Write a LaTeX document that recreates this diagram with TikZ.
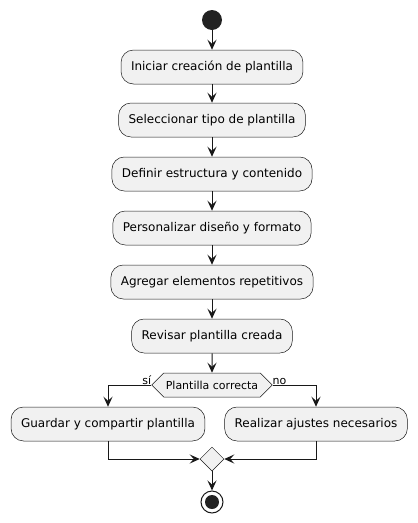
\documentclass[tikz,border=0pt]{standalone}
\usepackage{fontspec}
\setmainfont{DejaVu Sans}
\usetikzlibrary{arrows.meta,shapes.geometric,shapes.symbols}
\definecolor{lc}{HTML}{181818}
\definecolor{bf}{HTML}{F1F1F1}
\definecolor{sc}{HTML}{222222}
\begin{document}
\begin{tikzpicture}[x=1pt,y=-1pt,
  act/.style={draw=lc,fill=bf,line width=0.5pt,rounded corners=12.5pt,minimum height=34pt,inner xsep=10pt,font=\fontsize{12pt}{14pt}\selectfont,text=black},
  dec/.style={draw=lc,fill=bf,line width=0.5pt,signal,signal to=west and east,signal pointer angle=90,minimum height=24pt,inner xsep=2pt,font=\fontsize{11pt}{13pt}\selectfont},
  mrg/.style={draw=lc,fill=bf,line width=0.5pt,diamond,minimum width=24pt,minimum height=24pt,inner sep=0pt},
  lbl/.style={font=\fontsize{11pt}{13pt}\selectfont,inner sep=0pt},
  flow/.style={draw=lc,line width=1pt,-{Stealth[length=10pt,width=9pt,inset=4pt]}}]
\useasboundingbox (0,0) rectangle (418,523);
\node[circle,fill=sc,minimum size=20pt,inner sep=0pt] (start) at (212,20) {};
\node[act] (b1) at (212,67) {Iniciar creación de plantilla};
\node[act] (b2) at (212,120) {Seleccionar tipo de plantilla};
\node[act] (b3) at (212,174) {Definir estructura y contenido};
\node[act] (b4) at (212,228) {Personalizar diseño y formato};
\node[act] (b5) at (212,282) {Agregar elementos repetitivos};
\node[act] (b6) at (212,336) {Revisar plantilla creada};
\node[dec] (d) at (212,385) {Plantilla correcta};
\node[act] (l) at (108,424) {Guardar y compartir plantilla};
\node[act] (r) at (316,424) {Realizar ajustes necesarios};
\node[mrg] (m) at (212,459) {};
\node[circle,draw=lc,line width=1pt,fill=white,minimum size=22pt,inner sep=0pt] (end) at (212,502) {};
\node[circle,fill=sc,minimum size=14pt,inner sep=0pt] (endin) at (212,502) {};
\node[lbl,anchor=south east] (si) at (d.west) {sí};
\node[lbl,anchor=south west] (no) at (d.east) {no};
\draw[flow] (start) -- (b1);
\draw[flow] (b1) -- (b2);
\draw[flow] (b2) -- (b3);
\draw[flow] (b3) -- (b4);
\draw[flow] (b4) -- (b5);
\draw[flow] (b5) -- (b6);
\draw[flow] (b6) -- (d);
\draw[flow] (d.west) -| (l.north);
\draw[flow] (d.east) -| (r.north);
\draw[flow] (l.south) |- (m.west);
\draw[flow] (r.south) |- (m.east);
\draw[flow] (m) -- (end);
\end{tikzpicture}
\end{document}
